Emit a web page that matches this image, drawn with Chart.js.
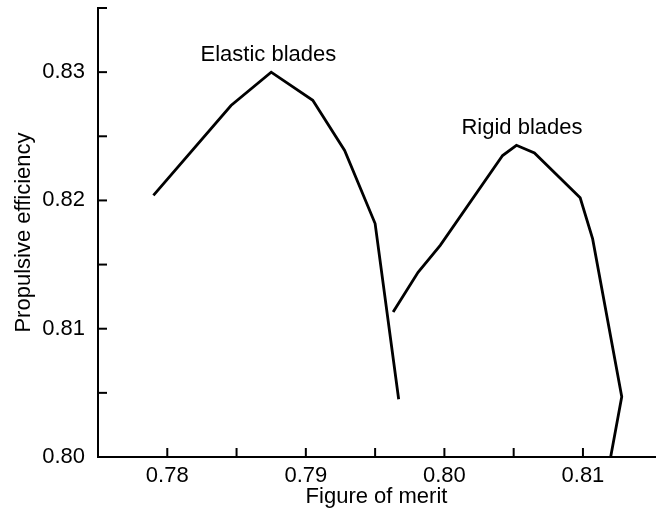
<!DOCTYPE html>
<html>
<head>
<meta charset="utf-8">
<script src="https://cdn.jsdelivr.net/npm/chart.js@4/dist/chart.umd.min.js"></script>
<style>
    body { margin: 0; background: #fff; }
    #wrap { width: 662px; height: 510px; }
</style>
</head>
<body>
<div id="wrap"><canvas id="meritChart" width="662" height="510"></canvas></div>
<script>
// ค่าที่อ่านจากกราฟ (figure of merit, propulsive efficiency)
const elasticMerit = [0.7790, 0.7846, 0.7875, 0.7905, 0.7928, 0.7950, 0.7967];
const elasticEff   = [0.8204, 0.8274, 0.8300, 0.8278, 0.8239, 0.8182, 0.8045];

const rigidMerit = [0.7963, 0.7981, 0.7997, 0.8042, 0.8052, 0.8065, 0.8098, 0.8107, 0.8128, 0.8120];
const rigidEff   = [0.8113, 0.8144, 0.8165, 0.8235, 0.8243, 0.8237, 0.8202, 0.8170, 0.8047, 0.8000];

const labelTexts = ['Elastic blades', 'Rigid blades'];
const labelMerit = [0.7873, 0.8056];
const labelEff   = [0.8309, 0.8252];

const xTitle = 'Figure of merit';
const yTitle = 'Propulsive efficiency';

const FONT = '"Liberation Sans", Arial, Helvetica, sans-serif';

function toPoints(xs, ys) {
    return xs.map((x, i) => ({ x: x, y: ys[i] }));
}

function isStep(v, step) {
    const r = v / step;
    return Math.abs(r - Math.round(r)) < 1e-6;
}

// เส้นขีดสเกลชี้เข้าด้านใน
const inwardTicks = {
    id: 'inwardTicks',
    afterDraw(chart) {
        const ctx = chart.ctx;
        const area = chart.chartArea;
        ctx.save();
        ctx.strokeStyle = '#000';
        ctx.lineWidth = 2;
        chart.scales.x.ticks.forEach(t => {
            if (!isStep(t.value, 0.005) || t.value <= chart.scales.x.min + 1e-6) return;
            const px = chart.scales.x.getPixelForValue(t.value);
            ctx.beginPath();
            ctx.moveTo(px, area.bottom);
            ctx.lineTo(px, area.bottom - 9);
            ctx.stroke();
        });
        chart.scales.y.ticks.forEach(t => {
            if (!isStep(t.value, 0.005)) return;
            const py = chart.scales.y.getPixelForValue(t.value);
            ctx.beginPath();
            ctx.moveTo(area.left, py);
            ctx.lineTo(area.left + 9, py);
            ctx.stroke();
        });
        ctx.restore();
    }
};

// ป้ายชื่อเส้น
const curveLabels = {
    id: 'curveLabels',
    afterDatasetsDraw(chart) {
        const ctx = chart.ctx;
        ctx.save();
        ctx.fillStyle = '#000';
        ctx.font = '22px ' + FONT;
        ctx.textAlign = 'center';
        ctx.textBaseline = 'alphabetic';
        labelTexts.forEach((txt, i) => {
            const px = chart.scales.x.getPixelForValue(labelMerit[i]);
            const py = chart.scales.y.getPixelForValue(labelEff[i]);
            ctx.fillText(txt, px, py);
        });
        ctx.restore();
    }
};

const ctx = document.getElementById('meritChart').getContext('2d');
new Chart(ctx, {
    type: 'scatter',
    data: {
        datasets: [
            {
                label: labelTexts[0],
                data: toPoints(elasticMerit, elasticEff),
                showLine: true,
                borderColor: '#000',
                borderWidth: 2.8,
                pointRadius: 0,
                tension: 0
            },
            {
                label: labelTexts[1],
                data: toPoints(rigidMerit, rigidEff),
                showLine: true,
                borderColor: '#000',
                borderWidth: 2.8,
                pointRadius: 0,
                tension: 0
            }
        ]
    },
    options: {
        responsive: false,
        animation: false,
        layout: { padding: { top: 8, right: 7, left: 0, bottom: 0 } },
        plugins: {
            legend: { display: false },
            tooltip: { enabled: false }
        },
        scales: {
            x: {
                type: 'linear',
                min: 0.775,
                max: 0.8152,
                afterFit: s => { s.height = 53; s.paddingLeft = 0; s.paddingRight = 0; },
                grid: { drawOnChartArea: false, drawTicks: false },
                border: { color: '#000', width: 2 },
                ticks: {
                    stepSize: 0.005,
                    autoSkip: false,
                    maxRotation: 0,
                    padding: 6,
                    color: '#000',
                    font: { family: FONT, size: 22 },
                    callback: v => isStep(v, 0.01) ? v.toFixed(2) : ''
                },
                title: {
                    display: true,
                    text: xTitle,
                    color: '#000',
                    font: { family: FONT, size: 22 },
                    padding: { top: 0, bottom: 0 }
                }
            },
            y: {
                type: 'linear',
                min: 0.80,
                max: 0.835,
                afterFit: s => { s.width = 98; s.paddingTop = 0; s.paddingBottom = 0; },
                grid: { drawOnChartArea: false, drawTicks: false },
                border: { color: '#000', width: 2 },
                ticks: {
                    stepSize: 0.005,
                    autoSkip: false,
                    padding: 13,
                    color: '#000',
                    font: { family: FONT, size: 22 },
                    callback: v => isStep(v, 0.01) ? v.toFixed(2) : ''
                },
                title: {
                    display: true,
                    text: yTitle,
                    color: '#000',
                    font: { family: FONT, size: 22 },
                    padding: { top: 11, bottom: 0 }
                }
            }
        }
    },
    plugins: [inwardTicks, curveLabels]
});
</script>
</body>
</html>
